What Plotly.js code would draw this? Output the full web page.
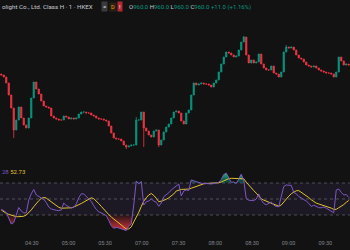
<!DOCTYPE html>
<html><head><meta charset="utf-8">
<script src="https://cdn.plot.ly/plotly-3.0.1.min.js"></script>
<style>html,body{margin:0;padding:0;background:#121212;}#chart{width:350px;height:250px;}</style>
</head><body><div id="chart"></div>
<script>
// 2-minute bars (price, HKD)
const closes = [955.0,954.0,951.0,945.0,938.5,927.5,932.5,939.0,933.5,930.0,
928.5,933.5,943.5,951.5,948.0,945.5,942.0,939.5,939.0,938.5,
934.5,933.5,933.0,932.5,932.5,934.5,934.0,933.0,933.5,933.0,
933.5,935.5,936.5,936.5,936.0,936.0,935.0,934.5,933.5,933.0,
933.0,932.5,932.0,929.5,926.0,923.5,923.0,923.0,922.0,920.0,
919.0,919.5,920.0,920.0,932.5,932.5,936.5,928.5,927.0,925.0,
924.0,927.0,927.5,920.0,922.5,926.5,929.0,930.5,933.5,936.5,
937.0,936.0,932.0,930.5,936.0,937.5,945.0,951.0,950.0,950.5,
951.0,950.5,950.5,950.0,949.0,951.0,952.5,956.5,960.5,964.0,
966.5,966.0,965.0,964.0,964.5,967.5,971.5,974.0,965.0,961.0,
962.5,961.0,961.5,965.5,960.5,958.5,957.5,957.5,959.5,956.0,
955.5,954.0,956.5,966.5,969.0,968.5,969.0,967.5,965.0,963.5,
963.0,961.5,960.0,959.5,959.0,959.5,958.5,957.5,957.0,956.5,
956.0,956.0,955.5,954.0,956.5,964.0,962.0,960.0,960.5,960.0];
const firstOpen = 955.5;
const wickLows = [[5, 923.5], [57, 919.0], [63, 919.0], [50, 918.0]];
const wickHighs = [[54, 934.0], [97, 974.5], [114, 970.0]];

const rsi = [36.9,35.6,33.1,25.6,18.8,20.6,31.3,39.4,35.0,32.5,
32.8,48.8,56.5,61.9,55.0,53.1,51.3,49.6,45.6,40.0,
37.5,36.5,35.9,35.5,36.3,45.0,41.9,40.4,38.8,39.6,
43.8,51.6,56.5,56.3,53.4,50.9,47.0,41.6,37.0,34.1,
32.5,31.8,29.4,23.1,16.6,13.4,14.4,13.8,12.4,11.3,
10.6,15.9,18.8,42.5,72.5,68.8,71.9,42.5,46.6,47.5,
50.0,47.5,45.9,40.9,45.0,52.9,55.0,57.8,61.3,64.0,
66.9,68.8,53.8,60.0,61.3,60.6,73.8,72.6,71.3,70.3,
69.6,69.6,69.4,68.8,68.8,69.4,69.9,70.9,74.4,80.6,
82.3,77.1,70.9,71.3,69.4,75.0,81.1,73.1,50.6,48.5,
48.0,47.9,50.0,56.3,48.8,44.4,42.8,44.4,46.3,42.3,
40.6,40.4,52.5,65.6,67.5,67.5,67.0,58.1,56.6,53.1,
51.3,49.5,47.5,44.6,40.6,42.3,40.6,39.1,39.1,40.0,
38.6,37.0,35.0,32.8,61.3,62.5,58.3,55.0,55.6,51.9];

const rsiMa = [36.3,33.9,32.1,30.8,29.5,28.4,27.9,27.9,28.0,28.5,
30.0,32.8,36.3,40.4,44.3,47.9,50.6,52.0,51.1,48.6,
45.9,43.4,40.9,39.6,38.5,38.4,38.4,38.8,39.0,40.0,
41.0,42.9,44.4,46.4,48.4,50.1,51.5,50.4,47.9,44.3,
40.8,37.1,33.8,30.4,27.5,25.0,22.5,20.0,17.8,14.9,
12.5,12.6,15.1,21.3,26.9,33.3,40.6,47.3,51.5,55.1,
56.9,54.5,50.9,46.6,47.3,48.1,49.6,51.5,53.4,56.3,
60.0,61.3,62.0,62.1,62.1,62.4,63.5,64.8,66.0,67.3,
68.5,69.0,69.4,69.6,69.6,69.6,69.9,70.3,71.3,72.9,
74.3,75.4,75.9,75.9,75.9,75.9,75.9,75.3,71.0,67.0,
63.4,60.5,57.3,53.0,50.1,48.6,47.3,45.9,44.9,43.5,
42.3,41.0,42.5,46.6,49.9,53.5,56.6,58.5,60.3,60.5,
58.5,56.8,53.8,51.8,49.1,46.6,44.8,43.8,42.8,41.8,
41.0,40.1,38.6,37.0,37.1,39.1,41.0,43.0,45.9,48.1];

const overbought = 70, midline = 50, oversold = 30;
const tickBars = [12.2, 26.9, 41.5, 56.2, 70.9, 85.6, 100.3, 114.9, 129.6];
const tickLabels = ["04:30","05:00","05:30","07:00","07:30","08:00","08:30","09:00","09:30"];

const symbolText = "olight Co., Ltd. Class H · 1 · HKEX";
const ohlc = {o:"960.0", h:"960.0", l:"960.0", c:"960.0", chg:"+11.0 (+1.16%)"};
const rsiLabel = {rsi:"28", ma:"52.73"};

const N = closes.length;
const idx = closes.map((_, i) => i);
const opens = closes.map((c, i) => i === 0 ? firstOpen : closes[i - 1]);
const highs = closes.map((c, i) => Math.max(c, opens[i]));
const lows = closes.map((c, i) => Math.min(c, opens[i]));
wickLows.forEach(([i, v]) => { lows[i] = Math.min(lows[i], v); });
wickHighs.forEach(([i, v]) => { highs[i] = Math.max(highs[i], v); });

const GREEN = '#089981', RED = '#f23645';
const traces = [
  {type:'candlestick', x: idx, open: opens, high: highs, low: lows, close: closes,
   xaxis:'x', yaxis:'y',
   increasing:{line:{color:GREEN, width:0.8}, fillcolor:GREEN},
   decreasing:{line:{color:RED, width:0.8}, fillcolor:RED},
   whiskerwidth:0, hoverinfo:'skip', showlegend:false},
  // overbought fill
  {type:'scatter', mode:'lines', x: idx, y: idx.map(() => overbought), yaxis:'y2',
   line:{width:0}, hoverinfo:'skip', showlegend:false},
  {type:'scatter', mode:'lines', x: idx, y: rsi.map(v => Math.max(v, overbought)), yaxis:'y2',
   line:{width:0}, fill:'tonexty', fillcolor:'rgba(8,153,129,0.6)',
   fillgradient:{type:'vertical', start: overbought, stop: 82,
     colorscale:[[0,'rgba(8,153,129,0.25)'],[1,'rgba(30,190,120,0.95)']]},
   hoverinfo:'skip', showlegend:false},
  // oversold fill
  {type:'scatter', mode:'lines', x: idx, y: idx.map(() => oversold), yaxis:'y2',
   line:{width:0}, hoverinfo:'skip', showlegend:false},
  {type:'scatter', mode:'lines', x: idx, y: rsi.map(v => Math.min(v, oversold)), yaxis:'y2',
   line:{width:0}, fill:'tonexty', fillcolor:'rgba(242,54,69,0.5)',
   fillgradient:{type:'vertical', start: 10, stop: oversold,
     colorscale:[[0,'rgba(242,54,69,0.9)'],[1,'rgba(242,54,69,0.08)']]},
   hoverinfo:'skip', showlegend:false},
  {type:'scatter', mode:'lines', x: idx, y: rsiMa, yaxis:'y2',
   line:{color:'#e3c230', width:1}, hoverinfo:'skip', showlegend:false},
  {type:'scatter', mode:'lines', x: idx, y: rsi, yaxis:'y2',
   line:{color:'#7e57c2', width:1}, hoverinfo:'skip', showlegend:false}
];

const dashLine = (v) => ({type:'line', xref:'paper', x0:0, x1:1, yref:'y2', y0:v, y1:v,
  line:{color:'rgba(120,123,134,0.55)', width:1, dash:'3px,3px'}, layer:'below'});

const FONT = 'Roboto, "Liberation Sans", sans-serif';
const layout = {
  width:350, height:250,
  paper_bgcolor:'#121212', plot_bgcolor:'#121212',
  margin:{l:0, r:0, t:0, b:12},
  font:{family:FONT, color:'#d1d4dc'},
  showlegend:false,
  xaxis:{domain:[0,1], anchor:'y2', range:[-0.5, N - 0.5], rangeslider:{visible:false},
    showgrid:false, zeroline:false, showline:false, ticks:'',
    tickmode:'array', tickvals: tickBars, ticktext: tickLabels,
    tickfont:{size:5.5, color:'#80838c', family:FONT}},
  yaxis:{domain:[0.3277, 0.916], range:[912.5, 982.5], visible:false, showgrid:false, fixedrange:true},
  yaxis2:{domain:[0, 0.3067], range:[1.25, 92.5], visible:false, showgrid:false},
  shapes:[
    {type:'rect', xref:'paper', x0:0, x1:1, yref:'y2', y0:oversold, y1:overbought,
     fillcolor:'rgba(126,87,194,0.1)', line:{width:0}, layer:'below'},
    dashLine(overbought), dashLine(midline), dashLine(oversold)
  ],
  annotations:[
    {xref:'paper', yref:'paper', x:0, y:0.9706, xanchor:'left', yanchor:'middle', showarrow:false,
     text: symbolText, font:{size:6.2, color:'#c7cad3'}},
    {xref:'paper', yref:'paper', x:0.2995, y:0.9706, xanchor:'center', yanchor:'middle', showarrow:false,
     text:'=', font:{size:6, color:'#e0e0e0'}, bgcolor:'#3a3a3e', borderpad:1},
    {xref:'paper', yref:'paper', x:0.3215, y:0.9706, xanchor:'center', yanchor:'middle', showarrow:false,
     text:'D', font:{size:5.5, color:'#ff9800'}, bgcolor:'#2a2116', borderpad:1},
    {xref:'paper', yref:'paper', x:0.3435, y:0.9706, xanchor:'center', yanchor:'middle', showarrow:false,
     text:'!', font:{size:6, color:'#ffffff'}, bgcolor:'#b22833', borderpad:1},
    {xref:'paper', yref:'paper', x:0.3629, y:0.9706, xanchor:'left', yanchor:'middle', showarrow:false,
     text:'O<span style="color:'+GREEN+'">'+ohlc.o+'</span> H<span style="color:'+GREEN+'">'+ohlc.h+
          '</span> L<span style="color:'+GREEN+'">'+ohlc.l+'</span> C<span style="color:'+GREEN+'">'+ohlc.c+
          '</span> <span style="color:'+GREEN+'">'+ohlc.chg+'</span>',
     font:{size:6, color:'#c7cad3'}},
    {xref:'paper', yref:'paper', x:0, y:0.2794, xanchor:'left', yanchor:'middle', showarrow:false,
     text:'<span style="color:#7e57c2">'+rsiLabel.rsi+'</span> <span style="color:#e3c230">'+rsiLabel.ma+'</span>',
     font:{size:6}}
  ]
};

Plotly.newPlot('chart', traces, layout, {staticPlot:true, displayModeBar:false});
</script>
</body></html>
